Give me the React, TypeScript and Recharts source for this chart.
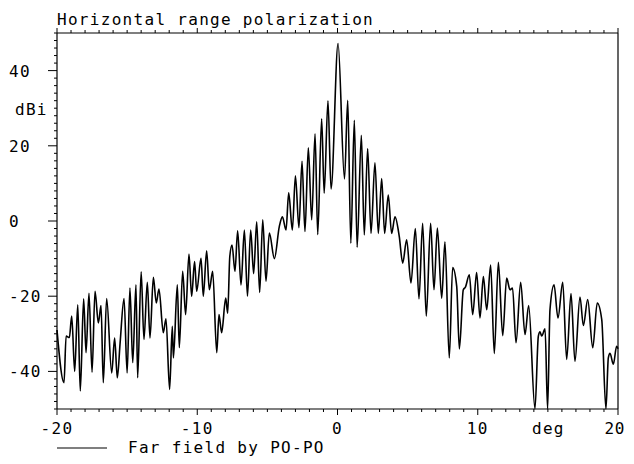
import { LineChart, Line, XAxis, YAxis, Legend } from "recharts";

const FONT = "'DejaVu Sans Mono', monospace";

// [deg, dBi], peaks and nulls in order
const farLeft: [number, number][] = [
  [-20, -29], [-19.5, -43], [-19.35, -30.6], [-19.12, -31], [-18.95, -25.3],
  [-18.74, -40], [-18.52, -22.3], [-18.34, -45.2], [-18.1, -20.7], [-17.93, -35],
  [-17.72, -19.2], [-17.5, -40.2], [-17.29, -18.7], [-17.05, -27.1], [-16.86, -22.5],
  [-16.7, -43], [-16.46, -20.6], [-16.1, -40.4], [-15.89, -31.1], [-15.7, -41.7],
  [-15.5, -32.4], [-15.22, -20.6], [-15.0, -40.4], [-14.8, -17.8], [-14.6, -37.7],
  [-14.37, -17.0], [-14.25, -41.7], [-14.0, -13.5], [-13.8, -31.5], [-13.56, -16.3],
  [-13.37, -31.1], [-13.13, -15.0], [-12.92, -21.8], [-12.73, -18.1], [-12.42, -29.7],
  [-12.23, -26.0],
];

const midLeft: [number, number][] = [
  [-11.97, -44.8], [-11.78, -28.0], [-11.7, -36.4], [-11.42, -17.0], [-11.28, -33.7],
  [-11.04, -13.4], [-10.83, -24.9], [-10.59, -8.8], [-10.4, -20.0], [-10.19, -10.8],
  [-10.04, -18.7], [-9.73, -9.9], [-9.57, -20.0], [-9.33, -7.9], [-9.14, -18.3],
  [-8.9, -13.4], [-8.61, -35.0], [-8.45, -24.9], [-8.26, -29.7], [-7.97, -20.5],
  [-7.83, -24.5], [-7.68, -9.5], [-7.52, -6.4], [-7.31, -13.4], [-7.12, -2.6],
  [-6.88, -17], [-6.64, -2.4], [-6.42, -20], [-6.19, -2.4], [-5.98, -14],
  [-5.76, -0.2], [-5.55, -19], [-5.33, 0.3], [-5.1, -16], [-4.86, -3.2],
  [-4.5, -10],
];

const mainLobe: [number, number][] = [
  [-4.15, -1.5], [-3.93, 1.1], [-3.67, -2.4], [-3.48, 7.5], [-3.22, -2.4],
  [-3.0, 12.0], [-2.75, -1.8], [-2.53, 15.9], [-2.32, -2.8], [-2.08, 19.5],
  [-1.84, 0.3], [-1.6, 23.2], [-1.41, -3.6], [-1.13, 27.2], [-0.95, 7.4],
  [-0.68, 32.0], [-0.46, 8.5], [0.04, 47.2], [0.5, 11.2], [0.73, 32.1],
  [0.95, -5.9], [1.2, 26.8], [1.4, -7.0], [1.7, 22.8], [1.91, -3.7],
  [2.15, 19.3], [2.39, -3.3], [2.67, 15.5], [2.91, -3.3], [3.15, 11.3],
  [3.36, -3.3], [3.62, 6.9], [3.86, -3.3], [4.1, 1.1], [4.4, -4.0],
];

const midRight: [number, number][] = [
  [4.65, -11.2], [4.93, -5.0], [5.24, -16.5], [5.55, -2.0], [5.81, -20.7],
  [6.07, -0.6], [6.33, -25.3], [6.64, -0.6], [6.88, -18.3], [7.12, -1.9],
  [7.43, -20.5], [7.66, -5.5], [7.97, -36.4], [8.21, -12.4], [8.5, -17.4],
  [8.69, -34.0], [8.97, -18.3], [9.12, -17.6], [9.4, -14.3], [9.64, -24.9],
  [9.92, -13.7], [10.16, -25.8], [10.4, -14.8], [10.64, -23.6], [10.92, -11.7],
  [11.18, -35.2], [11.47, -11.0], [11.78, -30.5],
];

const farRight: [number, number][] = [
  [12.06, -15.2], [12.3, -18.3], [12.48, -17.8], [12.73, -32.4], [13.06, -16.3],
  [13.37, -30.2], [13.63, -22.5], [14.08, -50], [14.32, -30.6], [14.44, -29.5],
  [14.56, -30.6], [14.8, -28.7], [14.98, -50], [15.15, -23.6], [15.44, -17.0],
  [15.72, -25.8], [16.06, -16.3], [16.34, -36.8], [16.65, -19.3], [16.93, -37.3],
  [17.29, -20.2], [17.53, -27.8], [17.84, -20.9], [18.2, -33.7], [18.52, -21.8],
  [18.84, -26.2], [19.14, -50], [19.31, -36.4], [19.43, -35.2], [19.67, -38.1],
  [19.9, -33.3], [20, -34],
];

const degLabels = [-20, -10, 0, 10, 20];
const dbLabels = [-40, -20, 0, 20, 40];
const degTicks = Array.from({ length: 41 }, (_, i) => i - 20);
const dbTicks = Array.from({ length: 51 }, (_, i) => i * 2 - 50);

const data = [...farLeft, ...midLeft, ...mainLobe, ...midRight, ...farRight].map(
  ([deg, dbi]) => ({ deg, dbi })
);

const W = 618;
const H = 448;
const txt = { fontFamily: FONT, fontSize: 16, letterSpacing: 1.3, fill: "#000" };

const BottomTick = (props: any) => {
  const { x, y, payload } = props;
  const major = degLabels.includes(payload.value);
  // keep the last label inside the drawing
  const last = x + 12 > W;
  return (
    <g>
      <line x1={x} x2={x} y1={y} y2={y + (major ? 6 : 3)} stroke="#000" />
      {major && (
        <text
          x={last ? W - 1 : x}
          y={y + 25}
          textAnchor={last ? "end" : "middle"}
          {...txt}
          letterSpacing={last ? 0.6 : 1.3}
        >
          {String(payload.value)}
        </text>
      )}
    </g>
  );
};

const TopTick = (props: any) => {
  const { x, y, payload } = props;
  const major = degLabels.includes(payload.value);
  return <line x1={x} x2={x} y1={y} y2={y - (major ? 5 : 3)} stroke="#000" />;
};

const LeftTick = (props: any) => {
  const { x, y, payload } = props;
  const major = dbLabels.includes(payload.value);
  return (
    <g>
      <line x1={x} x2={x - (major ? 9 : 3)} y1={y} y2={y} stroke="#000" />
      {major && (
        <text x={x - 48} y={y + 6} textAnchor="start" {...txt}>
          {String(payload.value)}
        </text>
      )}
    </g>
  );
};

const RightTick = (props: any) => {
  const { x, y, payload } = props;
  const major = dbLabels.includes(payload.value);
  return <line x1={x} x2={x + (major ? 6 : 3)} y1={y} y2={y} stroke="#000" />;
};

const LegendBox = ({ payload }: any) => (
  <svg width={320} height={17}>
    <line x1={0} x2={50} y1={9} y2={9} stroke="#000" strokeWidth={1.2} />
    <text x={71} y={14} {...txt}>
      {payload && payload[0] ? payload[0].value : ""}
    </text>
  </svg>
);

export default function App() {
  return (
    <LineChart
      width={W}
      height={H}
      data={data}
      margin={{ top: 0, right: 0, bottom: 0, left: 0 }}
      style={{ background: "#fff" }}
    >
      <text x={49} y={17} {...txt}>
        Horizontal range polarization
      </text>
      <text x={7} y={107} {...txt}>
        dBi
      </text>
      <text x={524} y={426} {...txt}>
        deg
      </text>
      <XAxis
        xAxisId="bottom"
        dataKey="deg"
        type="number"
        domain={[-20, 20]}
        ticks={degTicks}
        interval={0}
        height={47}
        tickLine={false}
        tickSize={0}
        tickMargin={0}
        tick={BottomTick}
        axisLine={{ stroke: "#000", strokeWidth: 1.2 }}
      />
      <XAxis
        xAxisId="top"
        orientation="top"
        dataKey="deg"
        type="number"
        domain={[-20, 20]}
        ticks={degTicks}
        interval={0}
        height={25}
        tickLine={false}
        tickSize={0}
        tickMargin={0}
        tick={TopTick}
        axisLine={{ stroke: "#000", strokeWidth: 1.2 }}
      />
      <YAxis
        yAxisId="left"
        type="number"
        domain={[-50, 50]}
        ticks={dbTicks}
        interval={0}
        width={49}
        tickLine={false}
        tickSize={0}
        tickMargin={0}
        tick={LeftTick}
        axisLine={{ stroke: "#000", strokeWidth: 1.2 }}
      />
      <YAxis
        yAxisId="right"
        orientation="right"
        type="number"
        domain={[-50, 50]}
        ticks={dbTicks}
        interval={0}
        width={8}
        tickLine={false}
        tickSize={0}
        tickMargin={0}
        tick={RightTick}
        axisLine={{ stroke: "#000", strokeWidth: 1.2 }}
      />
      <Legend
        layout="vertical"
        align="center"
        verticalAlign="middle"
        wrapperStyle={{ left: 49, top: 431, width: 320, height: 17 }}
        content={LegendBox}
      />
      <Line
        xAxisId="bottom"
        yAxisId="left"
        dataKey="dbi"
        name="Far field by PO-PO"
        type="monotone"
        dot={false}
        stroke="#000"
        strokeWidth={1.6}
        isAnimationActive={false}
      />
    </LineChart>
  );
}
